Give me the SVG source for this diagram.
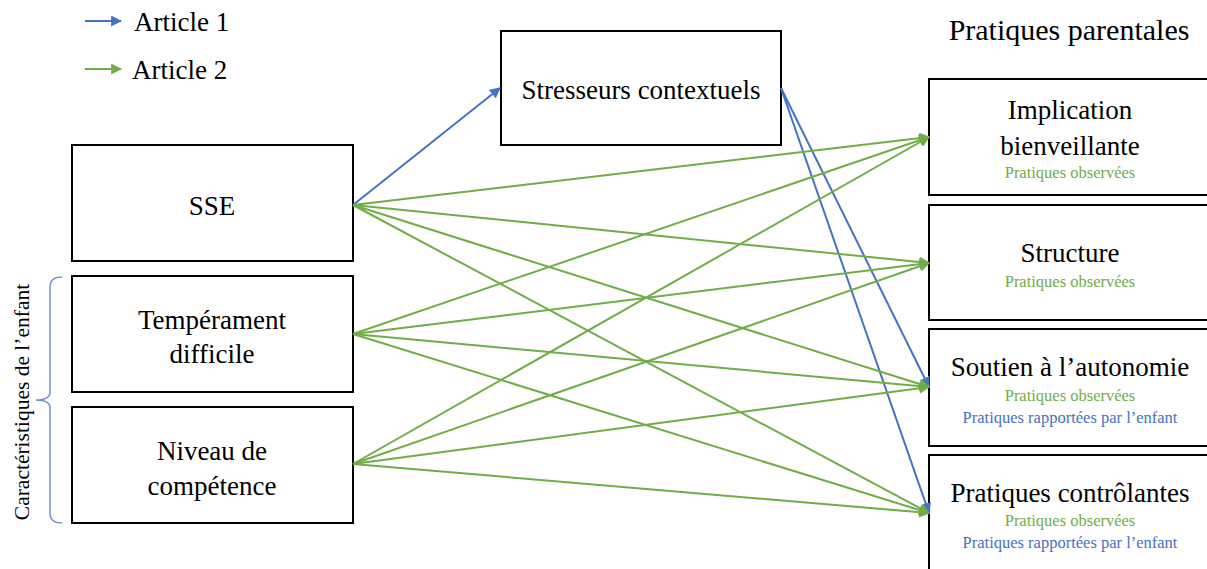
<svg xmlns="http://www.w3.org/2000/svg" width="1207" height="569" viewBox="0 0 1207 569" font-family="Liberation Serif, Times New Roman, serif">
<style>
.box{fill:#fff;stroke:#000;stroke-width:2}
text{font-family:"Liberation Serif","Noto Serif","DejaVu Serif",serif}
.t{font-size:27px;fill:#000;text-anchor:middle}
.s{font-size:16.5px;text-anchor:middle}
.g{fill:#70AD47}
.b{fill:#4472C4}
.lg{stroke:#70AD47;stroke-width:2;fill:none;marker-end:url(#ag)}
.lb{stroke:#4472C4;stroke-width:2;fill:none;marker-end:url(#ab)}
</style>
<defs>
<marker id="ag" viewBox="0 0 10 10" refX="9" refY="5" markerWidth="5.5" markerHeight="5.5" orient="auto" markerUnits="strokeWidth"><path d="M0,0 L10,5 L0,10 z" fill="#70AD47"/></marker>
<marker id="ab" viewBox="0 0 10 10" refX="9" refY="5" markerWidth="5.5" markerHeight="5.5" orient="auto" markerUnits="strokeWidth"><path d="M0,0 L10,5 L0,10 z" fill="#4472C4"/></marker>
</defs>
<rect width="1207" height="569" fill="#fff"/>
<g id="legend">
<line x1="85" y1="21" x2="121" y2="21" class="lb"/>
<text x="134" y="31" class="t" style="text-anchor:start">Article 1</text>
<line x1="85" y1="69" x2="121" y2="69" class="lg"/>
<text x="132" y="79" class="t" style="text-anchor:start">Article 2</text>
</g>
<g id="title"><text x="1069" y="40" class="t" style="font-size:30px">Pratiques parentales</text></g>
<g id="stresseurs"><rect x="501" y="31" width="280" height="114" class="box"/><text x="641" y="99" class="t">Stresseurs contextuels</text></g>
<g id="sse"><rect x="72" y="145" width="281" height="116" class="box"/><text x="212" y="215" class="t">SSE</text></g>
<g id="temperament"><rect x="72" y="276" width="281" height="116" class="box"/><text x="212" y="329" class="t">Tempérament</text><text x="212" y="363" class="t">difficile</text></g>
<g id="niveau"><rect x="72" y="407" width="281" height="116" class="box"/><text x="212" y="460" class="t">Niveau de</text><text x="212" y="495" class="t">compétence</text></g>
<g id="implication"><rect x="929" y="79" width="290" height="116" class="box"/><text x="1070" y="119" class="t">Implication</text><text x="1070" y="155" class="t">bienveillante</text><text x="1070" y="178" class="s g">Pratiques observées</text></g>
<g id="structure"><rect x="929" y="205" width="290" height="115" class="box"/><text x="1070" y="262" class="t">Structure</text><text x="1070" y="287" class="s g">Pratiques observées</text></g>
<g id="soutien"><rect x="929" y="329" width="290" height="117" class="box"/><text x="1070" y="376" class="t">Soutien à l’autonomie</text><text x="1070" y="401" class="s g">Pratiques observées</text><text x="1070" y="423" class="s b">Pratiques rapportées par l’enfant</text></g>
<g id="controlantes"><rect x="929" y="455" width="290" height="130" class="box"/><text x="1070" y="502" class="t">Pratiques contrôlantes</text><text x="1070" y="526" class="s g">Pratiques observées</text><text x="1070" y="548" class="s b">Pratiques rapportées par l’enfant</text></g>
<g id="caracteristiques">
<path d="M62,277 Q50,277 50,287 L50,392 Q50,400 36,400 Q50,400 50,408 L50,513 Q50,523 62,523" fill="none" stroke="#6F90CF" stroke-width="1.5"/>
<text transform="translate(22,402) rotate(-90)" x="0" y="7" class="t" style="font-size:21.5px">Caractéristiques de l’enfant</text>
</g>
<g id="connectors">
<line x1="353" y1="205" x2="500" y2="88" class="lb"/>
<line x1="781" y1="88" x2="929" y2="387" class="lb"/>
<line x1="781" y1="88" x2="929" y2="513" class="lb"/>
<line x1="353" y1="205" x2="929" y2="137" class="lg"/>
<line x1="353" y1="205" x2="929" y2="263" class="lg"/>
<line x1="353" y1="205" x2="929" y2="387" class="lg"/>
<line x1="353" y1="205" x2="929" y2="513" class="lg"/>
<line x1="353" y1="334" x2="929" y2="137" class="lg"/>
<line x1="353" y1="334" x2="929" y2="263" class="lg"/>
<line x1="353" y1="334" x2="929" y2="387" class="lg"/>
<line x1="353" y1="334" x2="929" y2="513" class="lg"/>
<line x1="353" y1="464" x2="929" y2="137" class="lg"/>
<line x1="353" y1="464" x2="929" y2="263" class="lg"/>
<line x1="353" y1="464" x2="929" y2="387" class="lg"/>
<line x1="353" y1="464" x2="929" y2="513" class="lg"/>
</g>
</svg>
